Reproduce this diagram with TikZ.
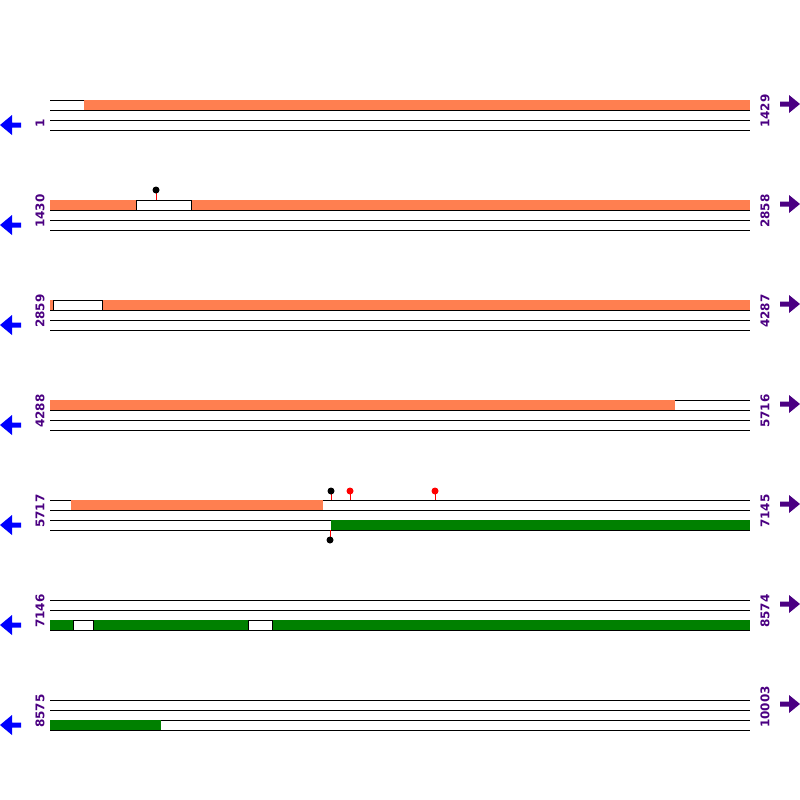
\documentclass[tikz,border=0pt]{standalone}
\usepackage{fontspec}
\usepackage{xcolor}
\newfontfamily\seqfont{DejaVu Sans}
\definecolor{featorange}{RGB}{255,127,80}
\definecolor{featgreen}{RGB}{0,128,0}
\definecolor{labelpurple}{RGB}{75,0,130}
\definecolor{strandblue}{RGB}{0,0,255}

\begin{document}
\begin{tikzpicture}[x=1pt, y=-1pt,
    trackline/.style={black, line width=0.8pt},
    fwdbar/.style={fill=featorange},
    revbar/.style={fill=featgreen},
    gapbar/.style={fill=white, draw=black, line width=0.8pt},
    poslabel/.style={rotate=90, anchor=west, inner sep=0pt, text=labelpurple,
      font=\seqfont\bfseries\fontsize{12}{13}\selectfont}]
  % Rahmen
  \useasboundingbox[fill=white] (0,0) rectangle (800,800);

  % Zeilen: Linien, Beschriftungen, Pfeile
  \foreach \r/\lo/\hi in {100/1/1429, 200/1430/2858, 300/2859/4287,
      400/4288/5716, 500/5717/7145, 600/7146/8574, 700/8575/10003} {
    \foreach \dy in {0,10,20,30}
      \draw[trackline] (50,\r+\dy) -- (750,\r+\dy);
    \node[poslabel] (lo\r) at (40,\r+28) {\lo};
    \node[poslabel] (hi\r) at (765,\r+28) {\hi};
    % Pfeil links (Gegenstrang)
    \fill[strandblue] (0,\r+25) -- (12,\r+15) -- (12,\r+22.5) -- (21,\r+22.5)
      -- (21,\r+27.5) -- (12,\r+27.5) -- (12,\r+35) -- cycle;
    % Pfeil rechts (Strang)
    \fill[labelpurple] (800,\r+4) -- (789,\r-5) -- (789,\r+1.5) -- (780,\r+1.5)
      -- (780,\r+6.5) -- (789,\r+6.5) -- (789,\r+13) -- cycle;
  }

  % Zeile 1
  \fill[fwdbar] (84,100) rectangle (750,110);

  % Zeile 2
  \fill[fwdbar] (50,200) rectangle (750,210);
  \draw[gapbar] (136,200) rectangle (191,210);

  % Zeile 3
  \fill[fwdbar] (50,300) rectangle (750,310);
  \draw[gapbar] (53,300) rectangle (102,310);

  % Zeile 4
  \fill[fwdbar] (50,400) rectangle (675,410);

  % Zeile 5
  \fill[fwdbar] (71,500) rectangle (323,510);
  \fill[revbar] (331,520) rectangle (750,530);

  % Zeile 6
  \fill[revbar] (50,620) rectangle (750,630);
  \draw[gapbar] (73,620) rectangle (93,630);
  \draw[gapbar] (248,620) rectangle (272,630);

  % Zeile 7
  \fill[revbar] (50,720) rectangle (161,730);

  % Markierungen
  \foreach \mx/\my/\mt/\mc in {156/200/190/black, 331/500/491/black,
      350/500/491/red, 435/500/491/red, 330/530/540/black} {
    \draw[red, line width=0.8pt] (\mx,\my) -- (\mx,\mt);
    \fill[\mc] (\mx,\mt) circle (3.5);
  }
\end{tikzpicture}
\end{document}
